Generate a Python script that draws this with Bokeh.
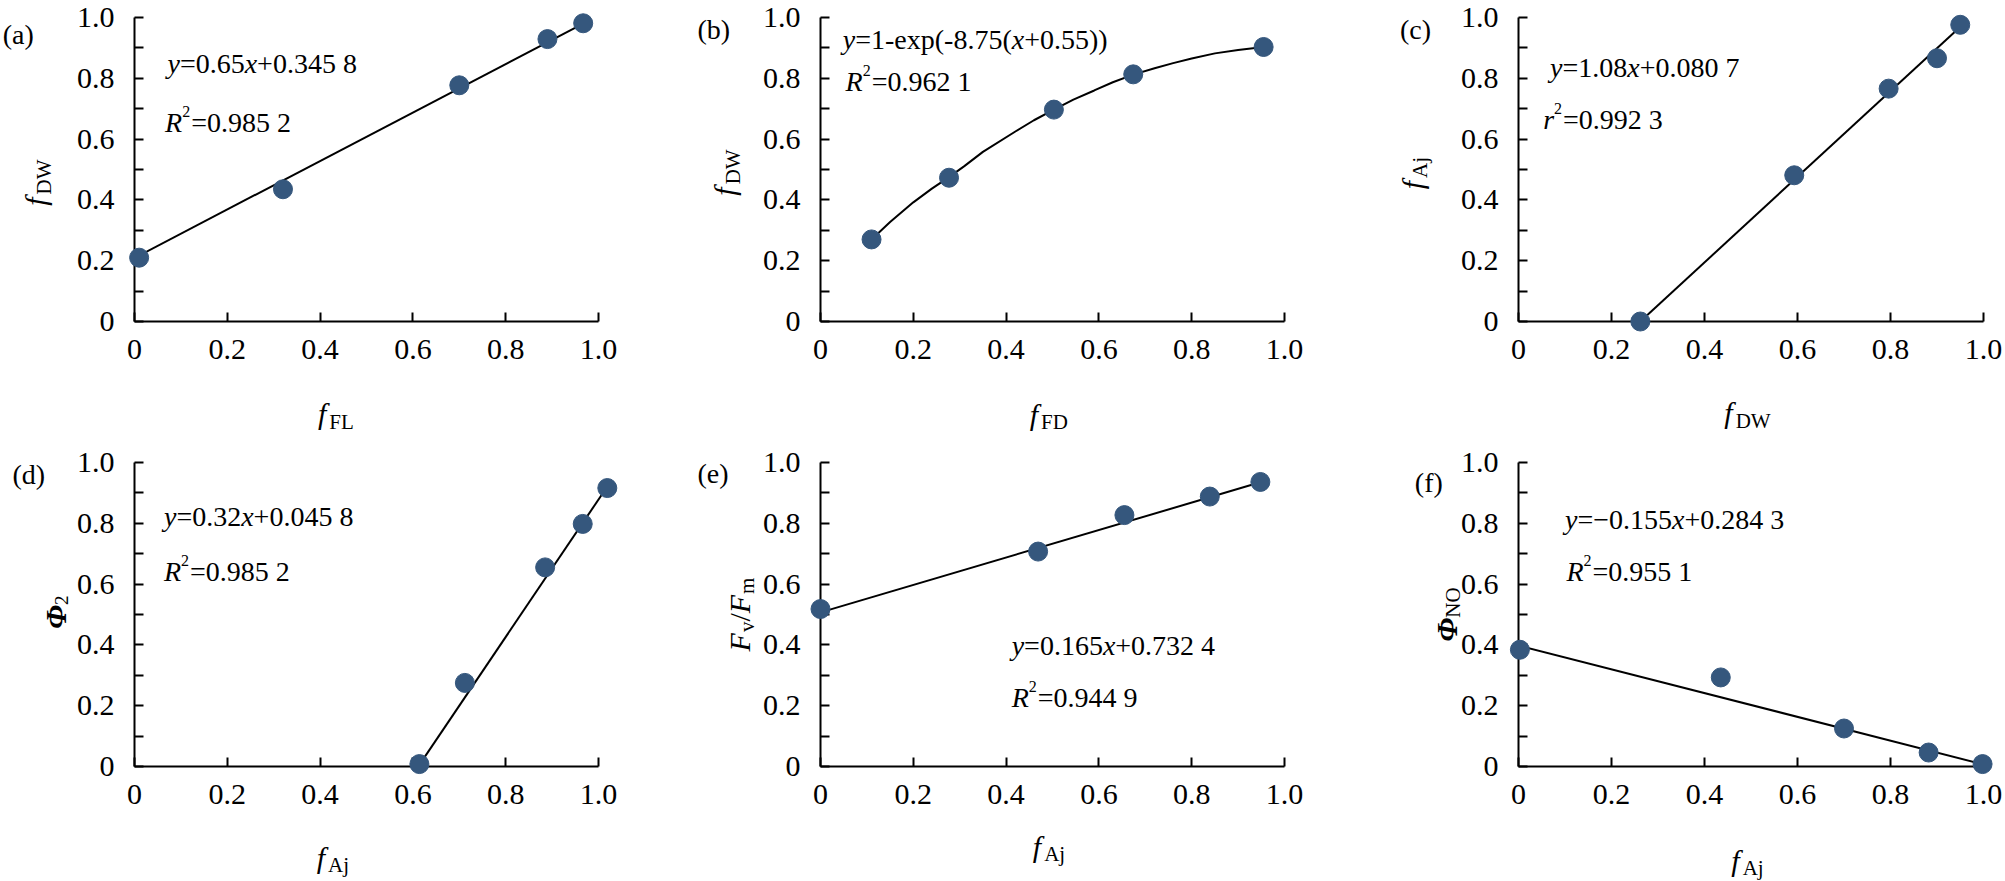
import math
from bokeh.plotting import figure
from bokeh.models import Range1d, FixedTicker, Label
from bokeh.layouts import column, row
from bokeh.embed import file_html
from bokeh.resources import INLINE

# ---------------- data ----------------
a_x = [0.01, 0.32, 0.70, 0.89, 0.967]
a_y = [0.21, 0.435, 0.777, 0.929, 0.981]
a_fit_x = [0.01, 0.967]
a_fit_y = [0.217, 0.980]

b_x = [0.11, 0.277, 0.503, 0.674, 0.955]
b_y = [0.27, 0.473, 0.697, 0.813, 0.903]
b_fit_x = [0.11, 0.15, 0.20, 0.24, 0.277, 0.31, 0.35, 0.42, 0.46, 0.503, 0.545,
           0.59, 0.63, 0.674, 0.72, 0.76, 0.80, 0.85, 0.90, 0.955]
b_fit_y = [0.27, 0.327, 0.392, 0.437, 0.475, 0.511, 0.558, 0.625, 0.662, 0.697, 0.730,
           0.760, 0.787, 0.812, 0.833, 0.850, 0.865, 0.882, 0.893, 0.903]

c_x = [0.262, 0.593, 0.796, 0.90, 0.95]
c_y = [0.00, 0.481, 0.766, 0.866, 0.976]
c_fit_x = [0.262, 0.945]
c_fit_y = [0.0, 0.962]

d_x = [0.614, 0.712, 0.885, 0.966, 1.019]
d_y = [0.008, 0.275, 0.655, 0.798, 0.916]
d_fit_x = [0.619, 1.011]
d_fit_y = [0.017, 0.903]

e_x = [0.0, 0.469, 0.655, 0.839, 0.948]
e_y = [0.518, 0.707, 0.827, 0.888, 0.936]
e_fit_x = [0.0, 0.946]
e_fit_y = [0.507, 0.934]

f_x = [0.003, 0.435, 0.700, 0.882, 0.998]
f_y = [0.384, 0.293, 0.125, 0.046, 0.008]
f_fit_x = [0.0, 0.989]
f_fit_y = [0.398, 0.011]

tick_values = [0, 0.2, 0.4, 0.6, 0.8, 1.0]
tick_labels = ["0", "0.2", "0.4", "0.6", "0.8", "1.0"]
minor_values = [0.1, 0.3, 0.5, 0.7, 0.9]

letters = ["(a)", "(b)", "(c)", "(d)", "(e)", "(f)"]

# ---------------- styling ----------------
FONT = "Liberation Serif"
DOT = "#35577d"
EQ, SUP, TICK, TITLE, SUB, LET = 28, 16, 30, 30, 21, 28

ROMAN = {' ': 250, '(': 333, ')': 333, '+': 564, '-': 333, '.': 250, '/': 278,
         '=': 564, '\u2212': 564, 'A': 722, 'D': 722, 'F': 556, 'L': 611,
         'N': 722, 'O': 722, 'W': 944, 'a': 444, 'b': 500, 'c': 444, 'd': 500,
         'e': 444, 'f': 333, 'j': 278, 'm': 778, 'p': 500, 'v': 500, 'x': 500}
ITALIC = {'f': 278, 'x': 444, 'y': 444, 'R': 611, 'r': 389, 'F': 611}
BOLDIT = {'\u03a6': 760}


def tw(s, style):
    tot = 0
    for ch in s:
        if style == "italic" and ch in ITALIC:
            tot += ITALIC[ch]
        elif style == "bold italic" and ch in BOLDIT:
            tot += BOLDIT[ch]
        else:
            tot += ROMAN.get(ch, 500)
    return tot / 1000.0


def rich(p, x, y, pieces, rotate=False, center=False):
    """pieces: (text, style, size, shift, extra)"""
    widths = [tw(t, st) * sz + ex for t, st, sz, sh, ex in pieces]
    off = -sum(widths) / 2 if center else 0
    for (t, st, sz, sh, ex), w in zip(pieces, widths):
        kw = dict(x=x, y=y, text=t, text_font=FONT, text_font_style=st,
                  text_font_size=f"{sz}px", text_color="black",
                  text_baseline="alphabetic", text_align="left")
        if rotate:
            lab = Label(x_offset=-sh, y_offset=off, angle=math.pi / 2, **kw)
        else:
            lab = Label(x_offset=off, y_offset=sh, **kw)
        p.add_layout(lab)
        off += w


def eq_lin(pre, post):
    return [("y", "italic", EQ, 0, 0), (pre, "normal", EQ, 0, 0),
            ("x", "italic", EQ, 0, 0), (post, "normal", EQ, 0, 0)]


def eq_r(sym, val):
    return [(sym, "italic", EQ, 0, 0), ("2", "normal", SUP, 11, 1),
            (val, "normal", EQ, 0, 0)]


def ftitle(sub):
    return [("f", "italic", TITLE, 0, 3), (sub, "normal", SUB, -8, 0)]


# layout geometry: figure pixel extents and where data 0 / 1 fall
FIG_W = [660, 700, 645]
FIG_H = [436, 444]
X0 = [134, 160, 158]      # px of x = 0 from figure left
XS = [464, 464, 465]      # px per unit x
Y0 = [321, 330]           # px of y = 0 from figure top
YS = [304, 304]


def panel(col, rw):
    xs, ys = XS[col], YS[rw]
    x_start = -X0[col] / xs
    x_end = (FIG_W[col] - X0[col]) / xs
    y_start = -(FIG_H[rw] - Y0[rw]) / ys
    y_end = Y0[rw] / ys
    p = figure(frame_width=FIG_W[col], frame_height=FIG_H[rw],
               x_range=Range1d(x_start, x_end), y_range=Range1d(y_start, y_end),
               min_border_left=0, min_border_right=0,
               min_border_top=0, min_border_bottom=0,
               output_backend="svg", toolbar_location=None, tools="")
    p.grid.visible = False
    p.outline_line_color = None
    p.background_fill_color = "white"
    p.border_fill_color = "white"
    overrides = {v: l for v, l in zip(tick_values, tick_labels)}
    for ax in (p.xaxis, p.yaxis):
        ax.fixed_location = 0
        ax.bounds = (0, 1)
        ax.axis_line_width = 2
        ax.axis_line_color = "black"
        ax.major_tick_line_width = 2
        ax.minor_tick_line_width = 2
        ax.major_tick_in = 9
        ax.major_tick_out = 0
        ax.minor_tick_in = 9
        ax.minor_tick_out = 0
        ax.major_label_text_font = FONT
        ax.major_label_text_font_size = f"{TICK}px"
        ax.major_label_text_color = "black"
        ax.major_label_overrides = overrides
    p.xaxis.ticker = FixedTicker(ticks=tick_values)
    p.xaxis.minor_tick_line_color = None
    p.yaxis.ticker = FixedTicker(ticks=tick_values, minor_ticks=minor_values)
    p.xaxis.major_label_standoff = 18
    p.yaxis.major_label_standoff = 20
    return p


def add_data(p, xs, ys, fx, fy):
    p.line(fx, fy, line_width=2, line_color="black", level="overlay")
    p.scatter(xs, ys, size=19, fill_color=DOT, line_color=DOT, level="overlay")


def letter(p, txt, x, y):
    rich(p, x, y, [(txt, "normal", LET, 0, 0)])


# (a)
pa = panel(0, 0)
add_data(pa, a_x, a_y, a_fit_x, a_fit_y)
rich(pa, 0.071, 0.849, eq_lin("=0.65", "+0.345 8"))
rich(pa, 0.066, 0.655, eq_r("R", "=0.985 2"))
rich(pa, 0.434, -0.303, ftitle("FL"), center=True)
rich(pa, -0.2125, 0.457, ftitle("DW"), rotate=True, center=True)
letter(pa, letters[0], -0.284, 0.944)

# (b)
pb = panel(1, 0)
add_data(pb, b_x, b_y, b_fit_x, b_fit_y)
rich(pb, 0.048, 0.929, eq_lin("=1-exp(-8.75(", "+0.55))"))
rich(pb, 0.054, 0.791, eq_r("R", "=0.962 1"))
rich(pb, 0.492, -0.305, ftitle("FD"), center=True)
rich(pb, -0.206, 0.49, ftitle("DW"), rotate=True, center=True)
letter(pb, letters[1], -0.265, 0.96)

# (c)
pc = panel(2, 0)
add_data(pc, c_x, c_y, c_fit_x, c_fit_y)
rich(pc, 0.068, 0.837, eq_lin("=1.08", "+0.080 7"))
rich(pc, 0.053, 0.663, eq_r("r", "=0.992 3"))
rich(pc, 0.4925, -0.300, ftitle("DW"), center=True)
rich(pc, -0.228, 0.488, ftitle("Aj"), rotate=True, center=True)
letter(pc, letters[2], -0.255, 0.96)

# (d)
pd_ = panel(0, 1)
add_data(pd_, d_x, d_y, d_fit_x, d_fit_y)
rich(pd_, 0.0635, 0.822, eq_lin("=0.32", "+0.045 8"))
rich(pd_, 0.0635, 0.642, eq_r("R", "=0.985 2"))
rich(pd_, 0.4276, -0.298, ftitle("Aj"), center=True)
rich(pd_, -0.170, 0.508, [("\u03a6", "bold italic", TITLE, 0, 1), ("2", "normal", 19, -6, 0)],
     rotate=True, center=True)
letter(pd_, letters[3], -0.263, 0.96)

# (e)
pe = panel(1, 1)
add_data(pe, e_x, e_y, e_fit_x, e_fit_y)
rich(pe, 0.412, 0.398, eq_lin("=0.165", "+0.732 4"))
rich(pe, 0.412, 0.228, eq_r("R", "=0.944 9"))
rich(pe, 0.4924, -0.262, ftitle("Aj"), center=True)
rich(pe, -0.174, 0.50, [("F", "italic", TITLE, 0, 1), ("v", "normal", SUB, -7, 0),
                         ("/", "normal", TITLE, 0, 0), ("F", "italic", TITLE, 0, 1),
                         ("m", "normal", SUB, -7, 0)], rotate=True, center=True)
letter(pe, letters[4], -0.265, 0.964)

# (f)
pf = panel(2, 1)
add_data(pf, f_x, f_y, f_fit_x, f_fit_y)
rich(pf, 0.100, 0.811, eq_lin("=\u22120.155", "+0.284 3"))
rich(pf, 0.103, 0.642, eq_r("R", "=0.955 1"))
rich(pf, 0.4925, -0.309, ftitle("Aj"), center=True)
rich(pf, -0.155, 0.50, [("\u03a6", "bold italic", TITLE, 0, 1), ("NO", "normal", SUB, -7, 0)],
     rotate=True, center=True)
letter(pf, letters[5], -0.223, 0.933)

layout = column(row(pa, pb, pc), row(pd_, pe, pf))
open("out.html", "w").write(file_html(layout, INLINE))
